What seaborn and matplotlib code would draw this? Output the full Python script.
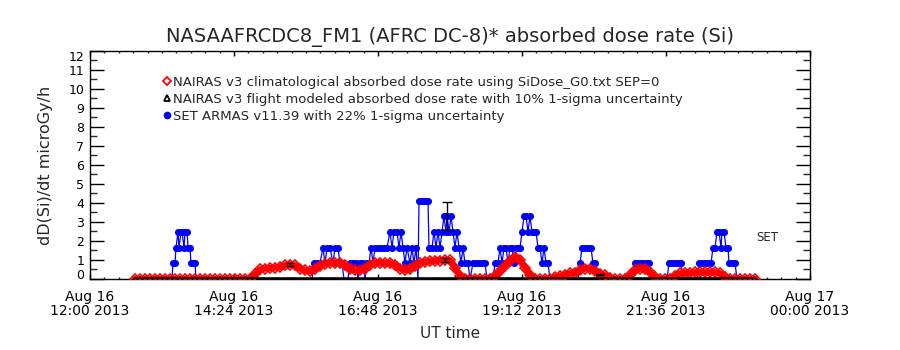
import numpy as np
import pandas as pd
import seaborn as sns
import matplotlib.pyplot as plt
from matplotlib.lines import Line2D

# --- data (minutes after 2013-08-16 12:00 UT) ---
t0 = pd.Timestamp("2013-08-16 12:00")

# NAIRAS climatological dose rate, read every 5 min
nairas_min = np.arange(45, 666, 5)
nairas_clim = [0] * 24 + [
    0.25, 0.5, 0.55, 0.58, 0.6, 0.62, 0.72, 0.75, 0.72, 0.55,
    0.45, 0.42, 0.5, 0.68, 0.8, 0.85, 0.86, 0.85, 0.72, 0.5,
    0.45, 0.45, 0.55, 0.75, 0.85, 0.86, 0.83, 0.83, 0.75, 0.55,
    0.48, 0.5, 0.7, 0.85, 0.9, 0.93, 0.95, 0.97, 1.0, 0.98,
    0.6, 0.15, 0, 0, 0, 0, 0, 0, 0.15, 0.4,
    0.7, 0.95, 1.15, 1.0, 0.6, 0.2, 0, 0, 0, 0,
    0.1, 0.15, 0.22, 0.3, 0.3, 0.45, 0.55, 0.55, 0.4, 0.25,
    0.2, 0.05, 0, 0, 0, 0.2, 0.45, 0.55, 0.55, 0.35,
    0.1, 0, 0, 0, 0.15, 0.3, 0.3, 0.3, 0.35, 0.35,
    0.35, 0.35, 0.35, 0.3, 0.1, 0, 0, 0, 0, 0,
    0,
]
# NAIRAS flight modeled (sits on zero)
nairas_flight = [0.0] * len(nairas_min)
nairas_err_min = [200, 355, 510]

# SET ARMAS dose rate
armas_min = [
    82, 83, 85, 86, 88, 89, 91, 92, 94, 95, 97, 98, 100, 101, 103, 105, 106,
    222, 224, 227, 230, 233, 235, 237, 240, 243, 245, 248, 250, 252, 254, 258,
    260, 263, 266, 268, 270, 273, 275, 277, 279, 281, 283, 285, 288, 291, 294,
    297, 300, 302, 304, 307, 309, 311, 313, 315, 317, 320, 322, 324, 326, 328,
    329, 332, 335, 338, 339, 342, 344, 346, 348, 350, 352, 354, 356, 357, 359,
    361, 363, 365, 367, 369, 371, 373, 375, 378, 380, 383, 386, 389, 392, 395, 397,
    403, 405, 408, 410, 412, 414, 416, 418, 420, 422, 424, 426, 428, 430, 432,
    434, 436, 438, 440, 442, 444, 446, 448, 450, 452, 454, 456, 458, 460,
    488, 490, 492, 495, 498, 501, 503, 505, 507,
    543, 545, 548, 551, 554, 557, 559, 561,
    577, 579, 582, 585, 588, 591, 593,
    607, 609, 612, 615, 618, 621, 623, 625, 627, 629, 631, 632, 634, 636, 638,
    639, 642, 645, 647,
]
armas_dose = [
    0, .83, .83, 1.65, 2.48, 1.65, 2.48, 2.48, 1.65, 2.48, 2.48, 1.65, 1.65, .83, .83, .83, 0,
    0, .83, .83, .83, 1.65, .83, 1.65, 1.65, .83, 1.65, 1.65, .83, .83, 0, 0,
    .83, .83, .83, 0, .83, .83, 0, .83, .83, 1.65, .83, 1.65, 1.65, 1.65, 1.65,
    1.65, 2.48, 1.65, 2.48, 2.48, 1.65, 2.48, 1.65, .83, 1.65, .83, 1.65, .83, 1.65, 0,
    4.13, 4.13, 4.13, 4.13, 1.65, 1.65, 2.48, 1.65, 2.48, 1.65, 2.48, 3.3, 2.48, 3.3, 2.48,
    3.3, 2.48, 1.65, 2.48, 1.65, .83, 1.65, .83, .83, 0, .83, .83, .83, .83, .83, 0,
    0, .83, .83, 1.65, .83, 1.65, 1.65, .83, 1.65, 1.65, .83, 1.65, 1.65, 1.65, 2.48,
    3.3, 3.3, 2.48, 3.3, 2.48, 2.48, 2.48, 1.65, 1.65, .83, 1.65, .83, .83, 0,
    0, .83, 1.65, 1.65, 1.65, 1.65, .83, .83, 0,
    0, .83, .83, .83, .83, .83, .83, 0,
    0, .83, .83, .83, .83, .83, 0,
    0, .83, .83, .83, .83, .83, 1.65, 1.65, 2.48, 2.48, 1.65, 2.48, 2.48, 1.65, 1.65,
    .83, .83, .83, 0,
]
armas_err_min = [357]

legend_labels = [
    "NAIRAS v3 climatological absorbed dose rate using SiDose_G0.txt SEP=0",
    "NAIRAS v3 flight modeled absorbed dose rate with 10% 1-sigma uncertainty",
    "SET ARMAS v11.39 with 22% 1-sigma uncertainty",
]

assert len(nairas_min) == len(nairas_clim)
assert len(armas_min) == len(armas_dose)

# --- frames ---
nairas = pd.DataFrame({
    "time": t0 + pd.to_timedelta(nairas_min, unit="m"),
    "clim": nairas_clim,
    "flight": nairas_flight,
})
armas = pd.DataFrame({
    "time": t0 + pd.to_timedelta(armas_min, unit="m"),
    "dose": armas_dose,
})
n_err = nairas.set_index(pd.Index(nairas_min)).loc[nairas_err_min]
a_err = armas.set_index(pd.Index(armas_min)).loc[armas_err_min]

sns.set_style("ticks")
plt.rcParams["font.family"] = ["DejaVu Sans"]

fig = plt.figure(figsize=(9, 3.5), dpi=100)
ax = fig.add_axes([0.1, 0.2029, 0.8, 0.6514])

sns.lineplot(data=armas, x="time", y="dose", color="blue", lw=0.9,
             estimator=None, sort=False, ax=ax, zorder=2)
sns.scatterplot(data=armas[armas["dose"] > 0], x="time", y="dose", color="blue",
                marker="o", s=26, linewidth=0, ax=ax, zorder=3)
sns.lineplot(data=nairas, x="time", y="clim", color="red", lw=4.5,
             marker="D", ms=5, mfc="none", mec="red", mew=1.2,
             estimator=None, ax=ax, zorder=5)
sns.lineplot(data=nairas, x="time", y="flight", color="black", lw=2.6,
             estimator=None, ax=ax, zorder=6)

ax.errorbar(n_err["time"], n_err["clim"], yerr=0.10 * n_err["clim"], fmt="none",
            ecolor="black", elinewidth=1, capsize=3, zorder=7)
ax.errorbar(a_err["time"], a_err["dose"], yerr=0.22 * a_err["dose"], fmt="none",
            ecolor="black", elinewidth=1, capsize=3.5, zorder=7)

# axes
ax.set_xlim(t0, t0 + pd.Timedelta(hours=12))
ax.set_ylim(0, 12)
major = pd.date_range(t0, t0 + pd.Timedelta(hours=12), freq="144min")
minor = pd.date_range(t0, t0 + pd.Timedelta(hours=12), freq="864s")
ax.set_xticks(major)
ax.set_xticks(minor, minor=True)
xl = ax.set_xticklabels([d.strftime("%b %d\n%H:%M %Y") for d in major])
for t in xl:
    t.set_linespacing(1.0)
ax.set_yticks(np.arange(0, 13, 1))
ax.set_yticks(np.arange(0, 12.01, 0.5), minor=True)
yl = ax.set_yticklabels([str(v) for v in range(13)])
yl[0].set_va("baseline")
yl[-1].set_va("top")

ax.tick_params(axis="x", which="major", direction="in", length=3.3, width=1,
               top=True, pad=8, labelsize=10, colors="black")
ax.tick_params(axis="x", which="minor", direction="in", length=1.7, width=1, top=True)
ax.tick_params(axis="y", which="major", direction="in", length=10.4, width=1,
               right=True, pad=4, labelsize=9, colors="black")
ax.tick_params(axis="y", which="minor", direction="in", length=5.2, width=1, right=True)
for s in ax.spines.values():
    s.set_visible(True)
    s.set_linewidth(1)
    s.set_color("black")

ax.set_xlabel("UT time", fontsize=11)
ax.xaxis.set_label_coords(0.5, -0.205)
ax.set_ylabel("dD(Si)/dt microGy/h", fontsize=11.5)
ax.yaxis.set_label_coords(-0.052, 0.5)

fig.text(0.5, 0.893, "NASAAFRCDC8_FM1 (AFRC DC-8)* absorbed dose rate (Si)",
         ha="center", va="center", fontsize=14)
ax.text(0.925, 0.184, "SET", transform=ax.transAxes, fontsize=8.5, va="center", ha="left")

handles = [
    Line2D([], [], ls="none", marker="D", ms=4, mfc="none", mec="red", mew=1.3),
    Line2D([], [], ls="none", marker="^", ms=4.5, mfc="none", mec="black", mew=1.3),
    Line2D([], [], ls="none", marker="o", ms=4.5, mfc="blue", mec="blue"),
]
ax.legend(handles, legend_labels, loc="upper left", bbox_to_anchor=(0.102, 0.89),
          frameon=False, fontsize=9.5, handlelength=0.5, handletextpad=0.2,
          labelspacing=0.3, borderaxespad=0, borderpad=0)

fig.savefig("out.png", dpi=100)
